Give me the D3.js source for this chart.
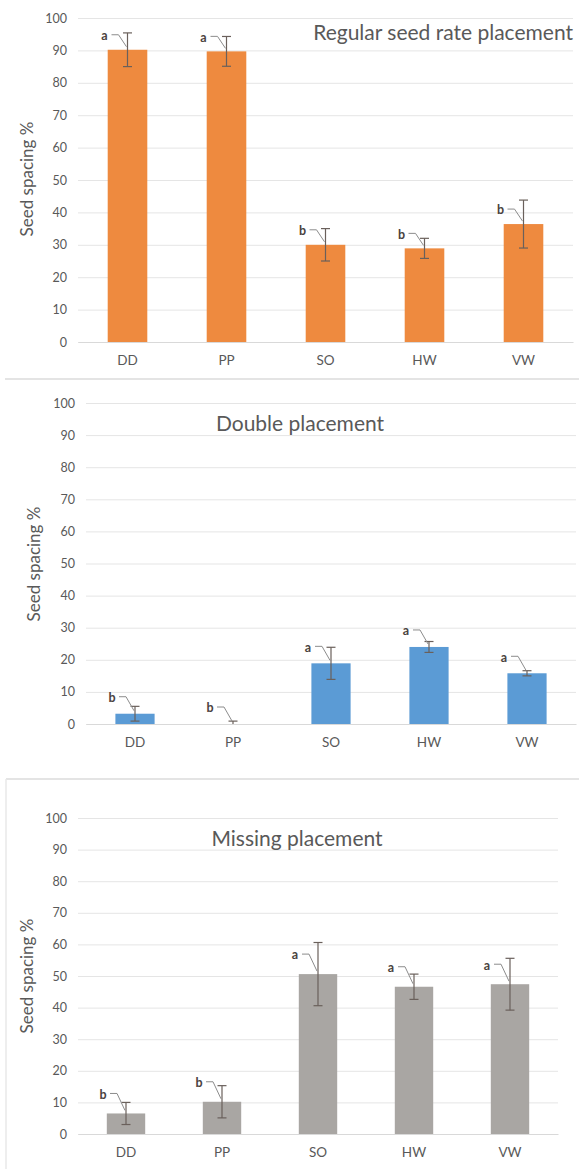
<!DOCTYPE html>
<html>
<head>
<meta charset="utf-8">
<script src="https://cdn.jsdelivr.net/npm/d3@7"></script>
<style>
  html, body { margin: 0; padding: 0; background: #fff; }
  svg { display: block; font-family: Lato, "Open Sans", sans-serif; }
</style>
</head>
<body>
<svg id="chart" width="579" height="1169"></svg>
<script>
// ── Daten ─────────────────────────────────────────────
const categories = ['DD', 'PP', 'SO', 'HW', 'VW'];
const yTicks = [0, 10, 20, 30, 40, 50, 60, 70, 80, 90, 100];

const regularMean    = [90.2, 89.7, 30.0, 28.9, 36.4];
const regularErr     = [5.2, 4.6, 5.0, 3.1, 7.4];
const regularLetters = ['a', 'a', 'b', 'b', 'b'];

const doubleMean    = [3.2, 0, 18.9, 24.0, 15.8];
const doubleErr     = [2.3, 0.9, 5.0, 1.7, 0.8];
const doubleLetters = ['b', 'b', 'a', 'a', 'a'];

const missingMean    = [6.5, 10.2, 50.6, 46.6, 47.4];
const missingErr     = [3.5, 5.1, 10.0, 4.0, 8.2];
const missingLetters = ['b', 'b', 'a', 'a', 'a'];

// ── Panels (Layout) ───────────────────────────────────
const panels = [
  { title: 'Regular seed rate placement', mean: regularMean, err: regularErr, letters: regularLetters,
    color: '#EE8A3F', y100: 18, y0: 342, x0: 78, x1: 573,
    titleX: 573, titleY: 40, titleAnchor: 'end', axisX: 27, axisY: 179, labDy: -14 },
  { title: 'Double placement', mean: doubleMean, err: doubleErr, letters: doubleLetters,
    color: '#5B9BD5', y100: 403, y0: 724, x0: 86, x1: 576,
    titleX: 300, titleY: 431, titleAnchor: 'middle', axisX: 34, axisY: 564, labDy: -16 },
  { title: 'Missing placement', mean: missingMean, err: missingErr, letters: missingLetters,
    color: '#A9A6A3', y100: 818, y0: 1134, x0: 78, x1: 558,
    titleX: 297, titleY: 846, titleAnchor: 'middle', axisX: 27, axisY: 976, labDy: -19 }
];

const svg = d3.select('#chart');
const TXT = '#595959';

// Panel-Trennlinien
svg.append('line').attr('x1', 5).attr('x2', 579).attr('y1', 379).attr('y2', 379)
  .attr('stroke', '#e4e4e4').attr('stroke-width', 2);
svg.append('line').attr('x1', 6).attr('x2', 579).attr('y1', 779).attr('y2', 779)
  .attr('stroke', '#e4e4e4').attr('stroke-width', 2);
svg.append('line').attr('x1', 6).attr('x2', 6).attr('y1', 779).attr('y2', 1169)
  .attr('stroke', '#e8e8e8').attr('stroke-width', 1.5);

panels.forEach(p => {
  const g = svg.append('g');

  const y = d3.scaleLinear().domain([0, 100]).range([p.y0, p.y100]);
  const x = d3.scaleBand().domain(categories).range([p.x0, p.x1]).paddingInner(0.6).paddingOuter(0.3);

  // Gitternetz + Y-Achse
  const yAxis = g.append('g')
    .attr('transform', `translate(${p.x0},0)`)
    .call(d3.axisLeft(y).tickValues(yTicks).tickSize(-(p.x1 - p.x0)).tickPadding(11));
  yAxis.select('.domain').remove();
  yAxis.selectAll('.tick line').attr('stroke', '#e5e5e5').attr('stroke-width', 1);
  yAxis.selectAll('.tick text').attr('fill', TXT).attr('font-size', 12.5)
    .attr('font-family', 'Lato, sans-serif');

  // X-Achse
  const xAxis = g.append('g')
    .attr('transform', `translate(0,${p.y0})`)
    .call(d3.axisBottom(x).tickSize(0).tickPadding(13));
  xAxis.select('.domain').attr('stroke', '#d9d9d9');
  xAxis.selectAll('.tick text').attr('fill', TXT).attr('font-size', 13.5)
    .attr('font-family', 'Lato, sans-serif');

  const rows = categories.map((c, i) => ({ c, m: p.mean[i], e: p.err[i], l: p.letters[i] }));

  // Balken
  g.append('g').selectAll('rect')
    .data(rows).join('rect')
      .attr('x', d => x(d.c))
      .attr('width', x.bandwidth())
      .attr('y', d => y(d.m))
      .attr('height', d => y(0) - y(d.m))
      .attr('fill', p.color);

  // Fehlerbalken
  const eb = g.append('g').attr('stroke', '#6a605b').attr('stroke-width', 1.2);
  rows.forEach(d => {
    const cx = x(d.c) + x.bandwidth() / 2;
    const hi = y(d.m + d.e), lo = y(Math.max(0, d.m - d.e));
    eb.append('line').attr('x1', cx).attr('x2', cx).attr('y1', hi).attr('y2', lo);
    eb.append('line').attr('x1', cx - 4.5).attr('x2', cx + 4.5).attr('y1', hi).attr('y2', hi);
    if (d.m - d.e > 0)
      eb.append('line').attr('x1', cx - 4.5).attr('x2', cx + 4.5).attr('y1', lo).attr('y2', lo);
  });

  // Buchstaben + Führungslinien
  rows.forEach(d => {
    const cx = x(d.c) + x.bandwidth() / 2;
    const lx = cx - 23, ly = y(d.m) + p.labDy;
    g.append('text')
      .attr('x', lx).attr('y', ly).attr('dy', '0.35em')
      .attr('text-anchor', 'middle')
      .attr('font-size', 12.5).attr('font-weight', 700)
      .attr('fill', '#4a423e')
      .text(d.l);
    g.append('path')
      .attr('d', `M${lx + 7},${ly - 1}L${lx + 14},${ly - 1}L${cx - 1},${y(d.m) - 3}`)
      .attr('fill', 'none').attr('stroke', '#8c8c8c').attr('stroke-width', 1);
  });

  // Titel
  g.append('text')
    .attr('x', p.titleX).attr('y', p.titleY)
    .attr('text-anchor', p.titleAnchor)
    .attr('font-size', 21).attr('fill', '#595959')
    .text(p.title);

  // Y-Achsentitel
  g.append('text')
    .attr('transform', `translate(${p.axisX},${p.axisY}) rotate(-90)`)
    .attr('text-anchor', 'middle').attr('dy', '0.35em')
    .attr('font-size', 17).attr('fill', TXT)
    .text('Seed spacing %');
});
</script>
</body>
</html>
